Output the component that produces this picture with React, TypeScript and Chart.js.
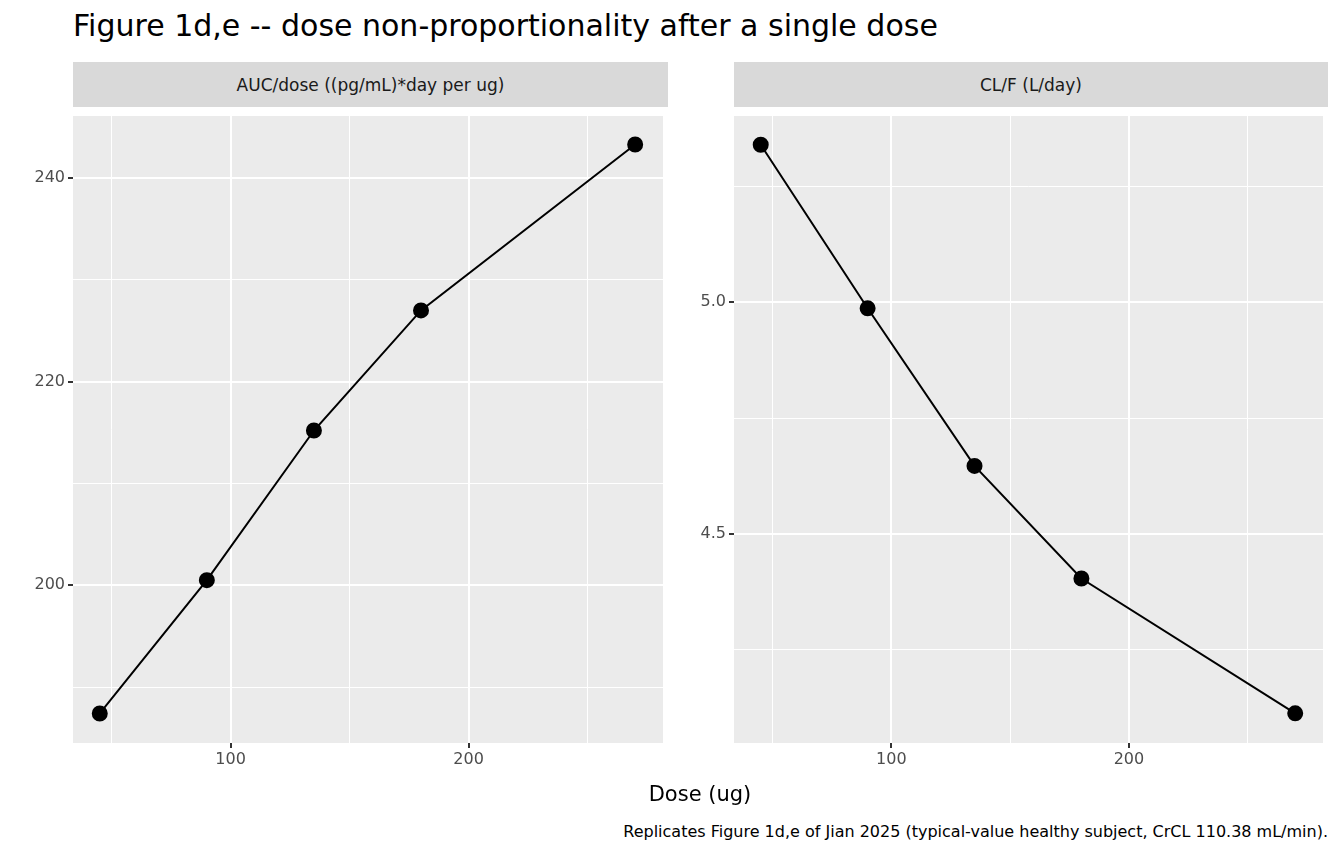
import React, { useEffect, useRef } from "react";
import { Chart, registerables } from "chart.js";
Chart.register(...registerables);

const doses = [45, 90, 135, 180, 270];
const aucPerDose = [187.4, 200.5, 215.2, 227.0, 243.3];
const clF = [5.34, 4.987, 4.647, 4.404, 4.113];
const xTicks = [50, 100, 150, 200, 250];
const xMajor = [100, 200];
const leftTicks = [190, 200, 210, 220, 230, 240];
const leftMajor = [200, 220, 240];
const rightTicks = [4.25, 4.5, 4.75, 5.0, 5.25];
const rightMajor = [4.5, 5.0];

const FONT = "'DejaVu Sans', 'Noto Sans', sans-serif";

const bgPlugin = {
  id: "bg",
  beforeDraw(c: any) {
    const { ctx, chartArea: a } = c;
    ctx.save();
    ctx.fillStyle = "#ebebeb";
    ctx.fillRect(a.left, a.top, a.right - a.left, a.bottom - a.top);
    ctx.restore();
  },
};

function Panel(props: {
  ys: number[]; yMin: number; yMax: number; yTicks: number[]; yMajor: number[];
  yWidth: number; fmt: (v: number) => string; left: number; width: number;
}) {
  const ref = useRef<HTMLCanvasElement>(null);
  useEffect(() => {
    const isMaj = (arr: number[], v: number) => arr.some((m) => Math.abs(m - v) < 1e-6);
    const chart = new Chart(ref.current!, {
      type: "line",
      data: {
        datasets: [{
          data: doses.map((d, i) => ({ x: d, y: props.ys[i] })),
          borderColor: "#000", borderWidth: 2, pointRadius: 7,
          pointBackgroundColor: "#000", pointBorderColor: "#000", tension: 0,
        }],
      },
      options: {
        animation: false, responsive: false, maintainAspectRatio: false,
        layout: { padding: { right: 4, top: 0, left: 0, bottom: 0 } },
        plugins: { legend: { display: false }, tooltip: { enabled: false } },
        scales: {
          x: {
            type: "linear", min: 33.75, max: 281.7, border: { display: false },
            afterBuildTicks: (s: any) => { s.ticks = xTicks.map((v) => ({ value: v })); },
            afterFit: (s: any) => { s.height = 32; s.paddingLeft = 0; s.paddingRight = 0; },
            ticks: {
              color: "#4d4d4d", font: { family: FONT, size: 16 }, padding: 2,
              autoSkip: false, maxRotation: 0,
              callback: (v: any) => (isMaj(xMajor, Number(v)) ? String(v) : ""),
            },
            grid: {
              color: "#fff", tickLength: 5,
              lineWidth: (c: any) => (isMaj(xMajor, c.tick?.value) ? 2 : 1),
              tickColor: (c: any) => (isMaj(xMajor, c.tick?.value) ? "#333" : "rgba(0,0,0,0)"),
            },
          },
          y: {
            min: props.yMin, max: props.yMax, border: { display: false },
            afterBuildTicks: (s: any) => { s.ticks = props.yTicks.map((v) => ({ value: v })); },
            afterFit: (s: any) => { s.width = props.yWidth; s.paddingTop = 0; s.paddingBottom = 0; },
            ticks: {
              color: "#4d4d4d", font: { family: FONT, size: 16 }, padding: 3, autoSkip: false,
              callback: (v: any) => (isMaj(props.yMajor, Number(v)) ? props.fmt(Number(v)) : ""),
            },
            grid: {
              color: "#fff", tickLength: 5,
              lineWidth: (c: any) => (isMaj(props.yMajor, c.tick?.value) ? 2 : 1),
              tickColor: (c: any) => (isMaj(props.yMajor, c.tick?.value) ? "#333" : "rgba(0,0,0,0)"),
            },
          },
        },
      } as any,
      plugins: [bgPlugin],
    });
    return () => chart.destroy();
  }, []);
  return (
    <canvas ref={ref} width={props.width} height={668}
      style={{ position: "absolute", left: props.left, top: 107, width: props.width, height: 668 }} />
  );
}

const strip = (left: number, width: number, text: string) => (
  <div style={{
    position: "absolute", left, top: 62, width, height: 45, background: "#d9d9d9",
    color: "#1a1a1a", fontSize: 17, display: "flex", alignItems: "center", justifyContent: "center",
  }}>{text}</div>
);

export default function App() {
  return (
    <div style={{ position: "fixed", left: 0, top: 0, width: 1344, height: 864, background: "#fff", fontFamily: FONT, fontStretch: "normal" }}>
      <div style={{ position: "absolute", left: 73, top: 8, fontSize: 30, color: "#000", whiteSpace: "nowrap" }}>
        Figure 1d,e -- dose non-proportionality after a single dose
      </div>
      {strip(73, 595, "AUC/dose ((pg/mL)*day per ug)")}
      {strip(734, 594, "CL/F (L/day)")}
      <Panel ys={aucPerDose} yMin={184.5} yMax={246.1} yTicks={leftTicks} yMajor={leftMajor}
        yWidth={73} fmt={(v) => String(v)} left={0} width={672} />
      <Panel ys={clF} yMin={4.049} yMax={5.402} yTicks={rightTicks} yMajor={rightMajor}
        yWidth={66} fmt={(v) => v.toFixed(1)} left={668} width={664} />
      <div style={{ position: "absolute", left: 0, width: 1400, top: 782, textAlign: "center", fontSize: 21, color: "#000" }}>
        Dose (ug)
      </div>
      <div style={{ position: "absolute", right: 16, top: 822, fontSize: 16, color: "#000", whiteSpace: "nowrap" }}>
        Replicates Figure 1d,e of Jian 2025 (typical-value healthy subject, CrCL 110.38 mL/min).
      </div>
    </div>
  );
}
